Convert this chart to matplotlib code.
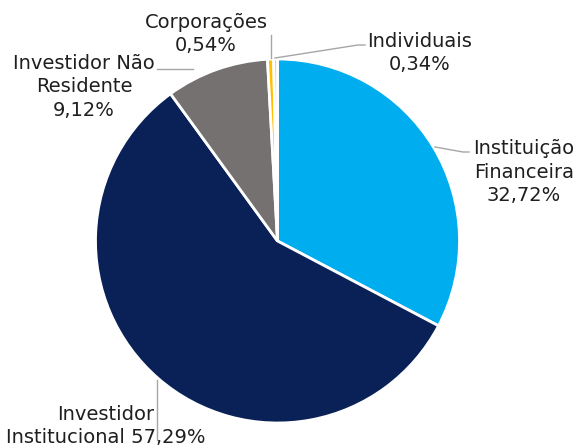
import matplotlib.pyplot as plt

labels = ['Instituição\nFinanceira\n32,72%', 'Investidor\nInstitucional 57,29%',
          'Investidor Não\nResidente\n9,12%', 'Corporações\n0,54%', 'Individuais\n0,34%']
values = [32.72, 57.29, 9.12, 0.54, 0.34]
colors = ['#00AEEF', '#0A2158', '#767171', '#FFC000', '#BDD7EE']

H = 446
fig = plt.figure(figsize=(5.79, 4.46), dpi=100)
ax = fig.add_axes([0, 0, 1, 1])

ax.pie(values, colors=colors, startangle=90, counterclock=False,
       center=(277.5, H - 241), radius=182,
       wedgeprops=dict(edgecolor='white', linewidth=2))
ax.set_xlim(0, 579)
ax.set_ylim(0, H)
ax.set_aspect('equal')
ax.axis('off')

txt = dict(fontsize=14, color='#1f1f1f', family='DejaVu Sans', linespacing=1.33)
line = dict(color='#A6A6A6', linewidth=1)

# Instituição Financeira
ax.plot([435, 463, 469], [H - 147, H - 152, H - 152], **line)
ax.text(524, H - 172, labels[0], ha='center', va='center', **txt)
# Investidor Institucional
ax.plot([157, 157], [H - 380, H - 440], **line)
ax.text(106, H - 426, labels[1], ha='center', va='center', **txt)
# Investidor Não Residente
ax.plot([157, 193], [H - 69, H - 69], **line)
ax.text(84, H - 87, labels[2], ha='center', va='center', **txt)
# Corporações
ax.plot([271, 271], [H - 35, H - 58], **line)
ax.text(206, H - 34, labels[3], ha='center', va='center', **txt)
# Individuais
ax.plot([275, 358, 365], [H - 58, H - 45, H - 45], **line)
ax.text(420, H - 53, labels[4], ha='center', va='center', **txt)

fig.savefig('out.png', dpi=100)
